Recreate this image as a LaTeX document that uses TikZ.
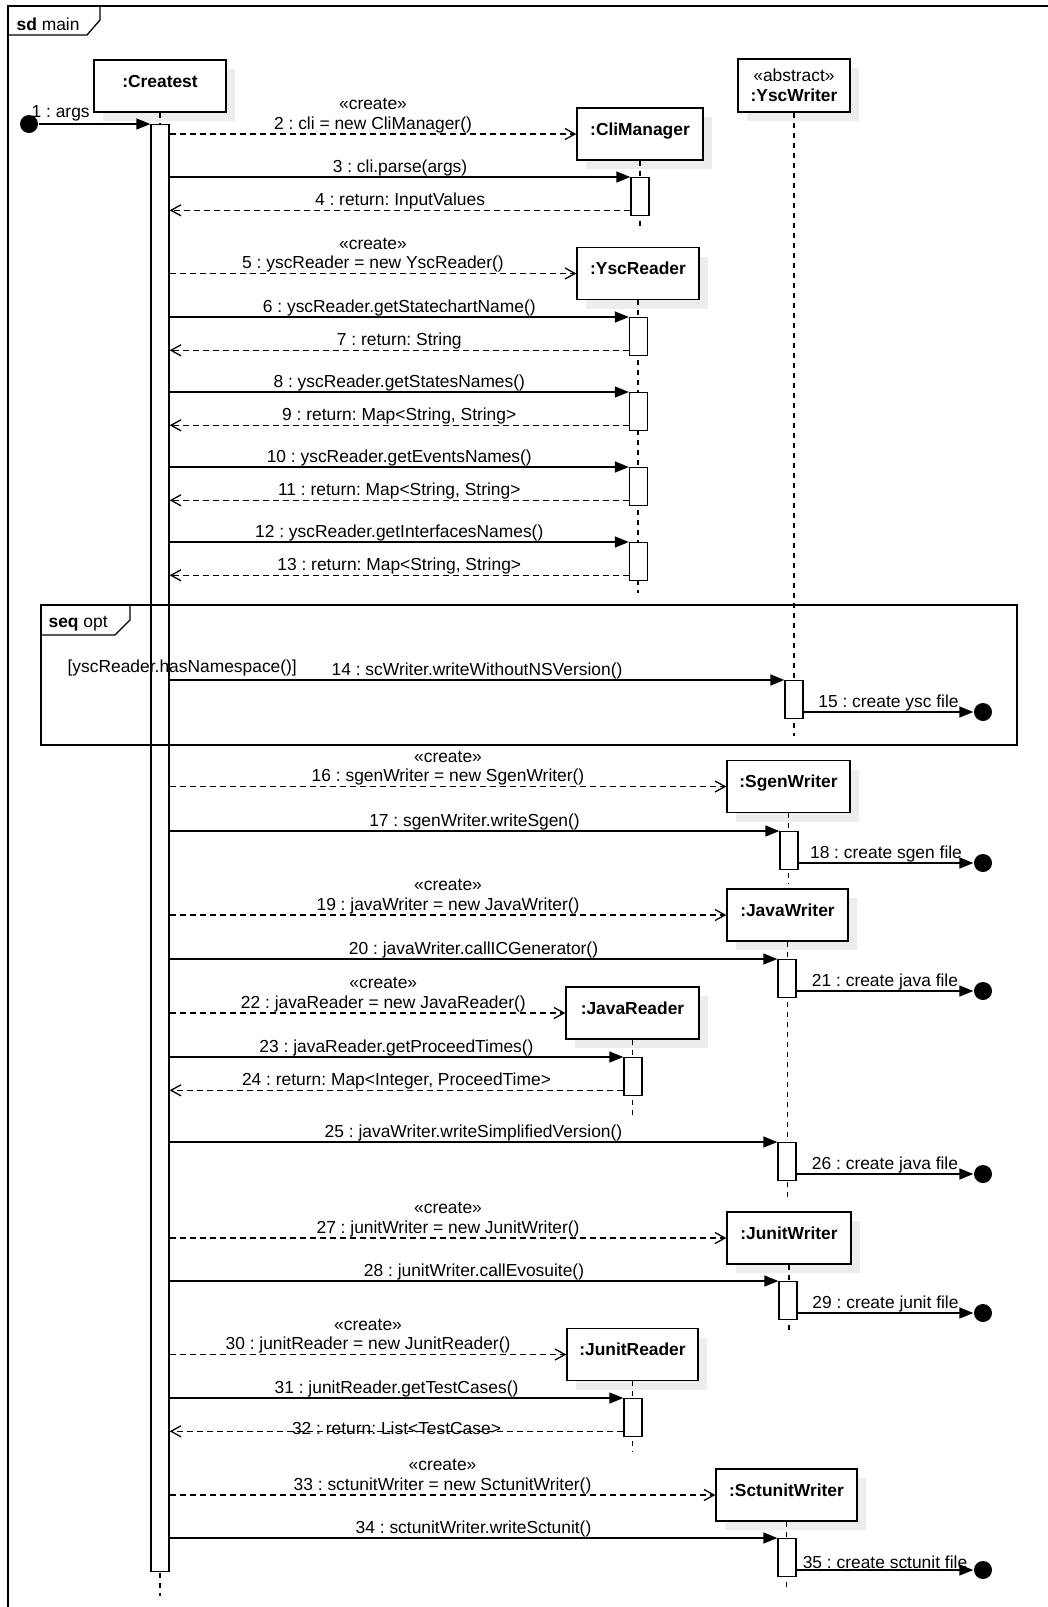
\documentclass[tikz,border=0pt]{standalone}
\usepackage{fontspec}
\setmainfont{Liberation Sans}
\usetikzlibrary{arrows.meta,shadows}
\newcommand{\diagfont}{\fontsize{8.7pt}{9.8pt}\selectfont}
\frenchspacing

\begin{document}
\begin{tikzpicture}[
    x=0.5pt, y=-0.5pt,
    font=\diagfont,
    line width=0.65pt,
    obj box/.style={draw, fill=white, inner sep=0pt, minimum height=26pt,
        font=\diagfont\bfseries, text height=6pt, text depth=4.8pt,
        drop shadow={shadow xshift=4.7pt, shadow yshift=-4.7pt, opacity=1, fill=black!7}},
    act bar/.style={draw, fill=white, inner sep=0pt, minimum width=9pt, minimum height=19pt, anchor=north},
    life line/.style={dash pattern=on 2.5pt off 2.5pt},
    call msg/.style={-{Triangle[length=7pt,width=5.5pt]}},
    ret msg/.style={-{Straight Barb[length=5pt,width=5.5pt]}, dash pattern=on 3pt off 2pt},
    new msg/.style={ret msg},
    end dot/.style={circle, fill=black, inner sep=0pt, minimum size=9pt},
    msg label/.style={above, inner sep=0.3pt, align=center},
    frame label/.style={anchor=west, inner sep=0pt},
]

\useasboundingbox (0,0) rectangle (1048,1607);

% Outer frame
\draw (8,1607) -- (8,6) -- (1048,6);
\draw (8,35) -- (87,35) -- (100,20) -- (100,6);
\node[frame label] (sdlabel) at (16,24) {\textbf{sd} main};

% Objects
\node[obj box, minimum width=66pt] (main) at (160,86) {:Createst};
\node[obj box, minimum width=63pt] (cli) at (640,134) {:CliManager};
\node[obj box, minimum width=56pt, minimum height=26.5pt, align=center, text height={}, text depth={}] (yscw) at (794,85.5) {\textmd{«abstract»}\\:YscWriter};
\node[obj box, minimum width=61pt] (yscr) at (638,273.5) {:YscReader};
\node[obj box, minimum width=61.5pt] (sgen) at (788.5,786.5) {:SgenWriter};
\node[obj box, minimum width=60.5pt] (javaw) at (787.5,915) {:JavaWriter};
\node[obj box, minimum width=66.5pt] (javar) at (632.5,1013) {:JavaReader};
\node[obj box, minimum width=62pt] (junitw) at (789,1238) {:JunitWriter};
\node[obj box, minimum width=65.5pt] (junitr) at (632.5,1354.5) {:JunitReader};
\node[obj box, minimum width=70.5pt] (sctw) at (786.5,1495) {:SctunitWriter};

% Lifelines
\draw[life line] (main.south) -- ++(0,1483);
\draw[life line] (cli.south) -- ++(0,67);
\draw[life line] (yscw.south) -- ++(0,623);
\draw[life line] (yscr.south) -- ++(0,293);
\draw[life line] (sgen.south) -- ++(0,71);
\draw[life line] (javaw.south) -- ++(0,256);
\draw[life line] (javar.south) -- ++(0,78);
\draw[life line] (junitw.south) -- ++(0,69);
\draw[life line] (junitr.south) -- ++(0,71);
\draw[life line] (sctw.south) -- ++(0,69);

% Activation bars
\node[act bar, minimum height=723.5pt] (a1) at (160,124) {};
\node[act bar] (a3) at (640,177) {};
\node[act bar] (a6) at (638.5,317) {};
\node[act bar] (a8) at (638.5,392) {};
\node[act bar] (a10) at (638.5,467) {};
\node[act bar] (a12) at (638.5,542) {};
\node[act bar] (a14) at (794,680) {};
\node[act bar] (a17) at (789,831) {};
\node[act bar] (a20) at (787,959) {};
\node[act bar] (a23) at (633,1057) {};
\node[act bar] (a25) at (787,1142) {};
\node[act bar] (a28) at (788,1281) {};
\node[act bar] (a31) at (633,1398) {};
\node[act bar] (a34) at (787,1538) {};

% opt fragment
\draw (41,605) rectangle (1017,745);
\draw (41,635) -- (115,635) -- (130,620) -- (130,605);
\node[frame label] (optlabel) at (48,624) {\textbf{seq} opt};
\node[frame label] (guard) at (67,668) {[yscReader.hasNamespace()]};

% Start and end points
\node[anchor=south west, inner sep=1pt] (m1) at (29,124) {1 : args};
\node[end dot] (s1) at (29,124) {};
\node[end dot] (e15) at (983,712) {};
\node[end dot] (e18) at (983,863) {};
\node[end dot] (e21) at (983,991) {};
\node[end dot] (e26) at (983,1174) {};
\node[end dot] (e29) at (983,1313) {};
\node[end dot] (e35) at (983,1570) {};

% Messages
\draw[call msg] (s1) -- (a1.north west);
\draw[new msg] (a1.east |- cli.west) -- node[msg label] (m2) {«create»\\2 : cli = new CliManager()} (cli.west);
\draw[call msg] (a1.east |- a3.north) -- node[msg label] (m3) {3 : cli.parse(args)} (a3.north west);
\draw[ret msg] ([yshift=3pt]a3.south west) coordinate (r4) -- node[msg label] (m4) {4 : return: InputValues} (r4 -| a1.east);

\draw[new msg] (a1.east |- yscr.west) -- node[msg label] (m5) {«create»\\5 : yscReader = new YscReader()} (yscr.west);
\draw[call msg] (a1.east |- a6.north) -- node[msg label] (m6) {6 : yscReader.getStatechartName()} (a6.north west);
\draw[ret msg] ([yshift=3pt]a6.south west) coordinate (r7) -- node[msg label] (m7) {7 : return: String} (r7 -| a1.east);
\draw[call msg] (a1.east |- a8.north) -- node[msg label] (m8) {8 : yscReader.getStatesNames()} (a8.north west);
\draw[ret msg] ([yshift=3pt]a8.south west) coordinate (r9) -- node[msg label] (m9) {9 : return: Map<String, String>} (r9 -| a1.east);
\draw[call msg] (a1.east |- a10.north) -- node[msg label] (m10) {10 : yscReader.getEventsNames()} (a10.north west);
\draw[ret msg] ([yshift=3pt]a10.south west) coordinate (r11) -- node[msg label] (m11) {11 : return: Map<String, String>} (r11 -| a1.east);
\draw[call msg] (a1.east |- a12.north) -- node[msg label] (m12) {12 : yscReader.getInterfacesNames()} (a12.north west);
\draw[ret msg] ([yshift=3pt]a12.south west) coordinate (r13) -- node[msg label] (m13) {13 : return: Map<String, String>} (r13 -| a1.east);

\draw[call msg] (a1.east |- a14.north) -- node[msg label] (m14) {14 : scWriter.writeWithoutNSVersion()} (a14.north west);
\draw[call msg] (a14.east |- e15) -- node[msg label] (m15) {15 : create ysc file} (e15);

\draw[new msg] (a1.east |- sgen.west) -- node[msg label] (m16) {«create»\\16 : sgenWriter = new SgenWriter()} (sgen.west);
\draw[call msg] (a1.east |- a17.north) -- node[msg label] (m17) {17 : sgenWriter.writeSgen()} (a17.north west);
\draw[call msg] (a17.east |- e18) -- node[msg label] (m18) {18 : create sgen file} (e18);

\draw[new msg] (a1.east |- javaw.west) -- node[msg label] (m19) {«create»\\19 : javaWriter = new JavaWriter()} (javaw.west);
\draw[call msg] (a1.east |- a20.north) -- node[msg label] (m20) {20 : javaWriter.callICGenerator()} (a20.north west);
\draw[call msg] (a20.east |- e21) -- node[msg label] (m21) {21 : create java file} (e21);
\draw[new msg] (a1.east |- javar.west) -- node[msg label, pos=0.54] (m22) {«create»\\22 : javaReader = new JavaReader()} (javar.west);
\draw[call msg] (a1.east |- a23.north) -- node[msg label] (m23) {23 : javaReader.getProceedTimes()} (a23.north west);
\draw[ret msg] ([yshift=3pt]a23.south west) coordinate (r24) -- node[msg label] (m24) {24 : return: Map<Integer, ProceedTime>} (r24 -| a1.east);
\draw[call msg] (a1.east |- a25.north) -- node[msg label] (m25) {25 : javaWriter.writeSimplifiedVersion()} (a25.north west);
\draw[call msg] (a25.east |- e26) -- node[msg label] (m26) {26 : create java file} (e26);

\draw[new msg] (a1.east |- junitw.west) -- node[msg label] (m27) {«create»\\27 : junitWriter = new JunitWriter()} (junitw.west);
\draw[call msg] (a1.east |- a28.north) -- node[msg label] (m28) {28 : junitWriter.callEvosuite()} (a28.north west);
\draw[call msg] (a28.east |- e29) -- node[msg label] (m29) {29 : create junit file} (e29);
\draw[new msg] (a1.east |- junitr.west) -- node[msg label] (m30) {«create»\\30 : junitReader = new JunitReader()} (junitr.west);
\draw[call msg] (a1.east |- a31.north) -- node[msg label] (m31) {31 : junitReader.getTestCases()} (a31.north west);
\draw[ret msg] ([yshift=3pt]a31.south west) coordinate (r32) -- node[msg label, yshift=-2.5pt] (m32) {32 : return: List<TestCase>} (r32 -| a1.east);

\draw[new msg] (a1.east |- sctw.west) -- node[msg label] (m33) {«create»\\33 : sctunitWriter = new SctunitWriter()} (sctw.west);
\draw[call msg] (a1.east |- a34.north) -- node[msg label] (m34) {34 : sctunitWriter.writeSctunit()} (a34.north west);
\draw[call msg] (a34.east |- e35) -- node[msg label] (m35) {35 : create sctunit file} (e35);

\end{tikzpicture}
\end{document}
